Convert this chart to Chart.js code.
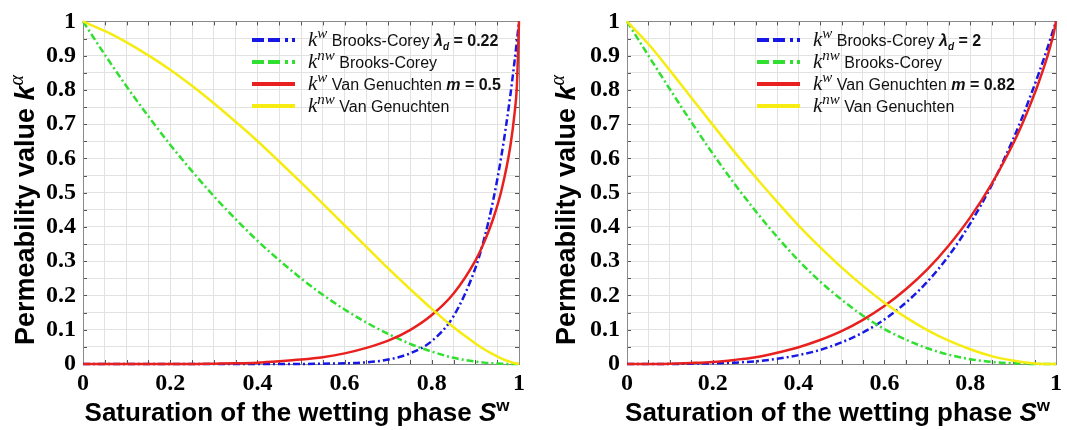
<!DOCTYPE html>
<html>
<head>
<meta charset="utf-8">
<script src="https://cdn.jsdelivr.net/npm/chart.js@4.4.0/dist/chart.umd.min.js"></script>
<style>
  body { margin: 0; background: #fff; }
  .row { display: flex; width: 1067px; height: 430px; }
  canvas { display: block; }
</style>
</head>
<body>
<div class="row">
  <canvas id="chartLeft" width="533" height="430"></canvas>
  <canvas id="chartRight" width="534" height="430"></canvas>
</div>
<script>
// saturation of the wetting phase S^w
const saturation = [0, 0.05, 0.1, 0.15, 0.2, 0.25, 0.3, 0.35, 0.4, 0.45, 0.5, 0.55, 0.6, 0.65,
  0.7, 0.75, 0.8, 0.85, 0.9, 0.92, 0.94, 0.96, 0.98, 0.99, 0.995, 1];

// left panel: lambda_d = 0.22, m = 0.5
const bcWettingLeft = [0, 0, 0, 0, 0, 0, 0, 0, 0, 0, 0, 0.001, 0.002, 0.005,
  0.013, 0.031, 0.067, 0.14, 0.28, 0.365, 0.473, 0.61, 0.783, 0.886, 0.941, 1];
const bcNonWettingLeft = [1, 0.903, 0.81, 0.723, 0.64, 0.563, 0.49, 0.423, 0.36, 0.303, 0.25, 0.202, 0.159, 0.121,
  0.088, 0.059, 0.036, 0.018, 0.007, 0.004, 0.002, 0.001, 0, 0, 0, 0];
const vgWettingLeft = [0, 0, 0, 0, 0, 0, 0.001, 0.002, 0.004, 0.008, 0.013, 0.02, 0.031, 0.047,
  0.068, 0.099, 0.143, 0.206, 0.302, 0.355, 0.421, 0.508, 0.635, 0.734, 0.808, 1];
const vgNonWettingLeft = [1, 0.972, 0.939, 0.901, 0.859, 0.812, 0.761, 0.707, 0.651, 0.591, 0.53, 0.468, 0.405, 0.342,
  0.279, 0.219, 0.161, 0.107, 0.06, 0.043, 0.029, 0.016, 0.006, 0.002, 0.001, 0];

// right panel: lambda_d = 2, m = 0.82
const bcWettingRight = [0, 0, 0, 0.001, 0.002, 0.004, 0.008, 0.015, 0.026, 0.041, 0.063, 0.092, 0.13, 0.179,
  0.24, 0.316, 0.41, 0.522, 0.656, 0.716, 0.781, 0.849, 0.922, 0.961, 0.98, 1];
const bcNonWettingRight = [1, 0.9, 0.802, 0.706, 0.614, 0.527, 0.446, 0.371, 0.302, 0.241, 0.188, 0.141, 0.102, 0.071,
  0.046, 0.027, 0.014, 0.006, 0.002, 0.001, 0, 0, 0, 0, 0, 0];
const vgWettingRight = [0, 0, 0.001, 0.003, 0.006, 0.012, 0.02, 0.033, 0.049, 0.07, 0.096, 0.129, 0.169, 0.218,
  0.276, 0.346, 0.428, 0.526, 0.643, 0.697, 0.757, 0.823, 0.898, 0.942, 0.967, 1];
const vgNonWettingRight = [1, 0.934, 0.857, 0.777, 0.698, 0.62, 0.545, 0.473, 0.404, 0.341, 0.282, 0.228, 0.179, 0.136,
  0.099, 0.068, 0.043, 0.023, 0.01, 0.006, 0.003, 0.001, 0, 0, 0, 0];

const xTickLabels = ['0', '0.2', '0.4', '0.6', '0.8', '1'];
const yTickLabels = ['0', '0.1', '0.2', '0.3', '0.4', '0.5', '0.6', '0.7', '0.8', '0.9', '1'];

const BLUE = '#1818e4';
const GREEN = '#30df30';
const RED = '#e8201e';
const YELLOW = '#f6ec12';
const DASHDOT = [7, 3, 2, 3];

const SANS = '"Liberation Sans", Arial, sans-serif';
const SERIF = '"Liberation Serif", "Times New Roman", serif';

function toPoints(values) {
  return saturation.map((s, i) => ({ x: s, y: values[i] }));
}

function tickText(labels) {
  return v => {
    const hit = labels.find(t => Math.abs(parseFloat(t) - v) < 1e-6);
    return hit === undefined ? '' : hit;
  };
}

// draws a list of text pieces one after another (for super/subscripts)
function drawRuns(ctx, runs, x, y, align) {
  let total = 0;
  runs.forEach(r => {
    ctx.font = r.font;
    r.w = ctx.measureText(r.text).width;
    total += r.w;
  });
  let cx = align === 'center' ? x - total / 2 : x;
  ctx.textAlign = 'left';
  ctx.textBaseline = 'alphabetic';
  runs.forEach(r => {
    ctx.font = r.font;
    ctx.fillText(r.text, cx, y + (r.dy || 0));
    cx += r.w;
  });
}

function kLabel(sup) {
  return [
    { text: 'k', font: 'italic 21px ' + SERIF },
    { text: sup, font: 'italic 15px ' + SERIF, dy: -8 },
    { text: ' ', font: '16px ' + SANS }
  ];
}

function makePanel(canvasId, series, lambdaText, mText, layout) {
  const legendDash = [12, 4, 12, 5, 3, 4, 3, 4];
  const legendRows = [
    { color: BLUE, dash: legendDash, runs: kLabel('w').concat([
      { text: 'Brooks-Corey ', font: '16px ' + SANS },
      { text: 'λ', font: 'bold italic 16px ' + SANS },
      { text: 'd', font: 'bold italic 10px ' + SANS, dy: 4 },
      { text: ' = ' + lambdaText, font: 'bold 16px ' + SANS }
    ]) },
    { color: GREEN, dash: legendDash, runs: kLabel('nw').concat([
      { text: 'Brooks-Corey', font: '16px ' + SANS }
    ]) },
    { color: RED, dash: [], runs: kLabel('w').concat([
      { text: 'Van Genuchten ', font: '16px ' + SANS },
      { text: 'm', font: 'bold italic 16px ' + SANS },
      { text: ' = ' + mText, font: 'bold 16px ' + SANS }
    ]) },
    { color: YELLOW, dash: [], runs: kLabel('nw').concat([
      { text: 'Van Genuchten', font: '16px ' + SANS }
    ]) }
  ];

  // axes box with inward tick marks, drawn under the curves
  const axesBox = {
    id: 'axesBox',
    beforeDatasetsDraw(chart) {
      const { ctx, chartArea: a, scales } = chart;
      ctx.save();
      ctx.strokeStyle = '#555';
      ctx.lineWidth = 1;
      scales.x.ticks.forEach(t => {
        const px = Math.round(scales.x.getPixelForValue(t.value)) + 0.5;
        ctx.beginPath();
        ctx.moveTo(px, a.bottom); ctx.lineTo(px, a.bottom - 4);
        ctx.moveTo(px, a.top); ctx.lineTo(px, a.top + 4);
        ctx.stroke();
      });
      scales.y.ticks.forEach(t => {
        const py = Math.round(scales.y.getPixelForValue(t.value)) + 0.5;
        ctx.beginPath();
        ctx.moveTo(a.left, py); ctx.lineTo(a.left + 4, py);
        ctx.moveTo(a.right, py); ctx.lineTo(a.right - 4, py);
        ctx.stroke();
      });
      ctx.strokeStyle = '#8a8a8a';
      ctx.strokeRect(Math.round(a.left) + 0.5, Math.round(a.top) + 0.5,
        Math.round(a.right - a.left), Math.round(a.bottom - a.top));
      ctx.restore();
    }
  };

  const titlesAndLegend = {
    id: 'titlesAndLegend',
    afterDraw(chart) {
      const { ctx, chartArea: a } = chart;
      ctx.save();
      ctx.fillStyle = '#000';
      // x axis title
      drawRuns(ctx, [
        { text: 'Saturation of the wetting phase ', font: 'bold 26px ' + SANS },
        { text: 'S', font: 'bold italic 26px ' + SANS },
        { text: 'w', font: 'bold 17px ' + SANS, dy: -10 }
      ], (a.left + a.right) / 2 - 4, 421, 'center');
      // y axis title
      ctx.save();
      ctx.translate(layout.yTitleX, 210);
      ctx.rotate(-Math.PI / 2);
      drawRuns(ctx, [
        { text: 'Permeability value ', font: 'bold 27px ' + SANS },
        { text: 'k', font: 'bold italic 27px ' + SANS },
        { text: 'α', font: 'italic 20px ' + SERIF, dy: -11 }
      ], 0, 10, 'center');
      ctx.restore();
      // legend
      legendRows.forEach((row, i) => {
        const cy = 40 + i * 22;
        const x0 = a.left + layout.legendX;
        ctx.save();
        ctx.strokeStyle = row.color;
        ctx.lineWidth = 4;
        ctx.setLineDash(row.dash);
        ctx.beginPath();
        ctx.moveTo(x0, cy);
        ctx.lineTo(x0 + 43, cy);
        ctx.stroke();
        ctx.restore();
        ctx.fillStyle = '#111';
        drawRuns(ctx, row.runs, x0 + 56, cy + 6, 'left');
      });
      ctx.restore();
    }
  };

  const curve = (values, color, dash, order) => ({
    data: toPoints(values),
    borderColor: color,
    borderWidth: 2.5,
    borderDash: dash,
    pointRadius: 0,
    cubicInterpolationMode: 'monotone',
    fill: false,
    clip: 4,
    order: order
  });

  new Chart(document.getElementById(canvasId), {
    type: 'line',
    data: {
      datasets: [
        curve(series[0], BLUE, DASHDOT, 3),
        curve(series[1], GREEN, DASHDOT, 2),
        curve(series[2], RED, [], 1),
        curve(series[3], YELLOW, [], 0)
      ]
    },
    options: {
      responsive: false,
      animation: false,
      layout: { padding: { top: 19, right: layout.rightPad, left: 0, bottom: 0 } },
      plugins: { legend: { display: false }, tooltip: { enabled: false } },
      scales: {
        x: {
          type: 'linear',
          min: 0,
          max: 1,
          afterFit: s => { s.height = 66; },
          grid: { color: '#e2e2e2', drawTicks: false },
          border: { display: false },
          ticks: {
            stepSize: 0.05,
            autoSkip: false,
            maxRotation: 0,
            padding: 5,
            color: '#000',
            font: { family: SERIF, weight: 'bold', size: 24 },
            callback: tickText(xTickLabels)
          }
        },
        y: {
          min: 0,
          max: 1,
          afterFit: s => { s.width = layout.plotLeft; },
          grid: { color: '#e2e2e2', drawTicks: false },
          border: { display: false },
          ticks: {
            stepSize: 0.05,
            autoSkip: false,
            padding: 7,
            color: '#000',
            font: { family: SERIF, weight: 'bold', size: 24 },
            callback: tickText(yTickLabels)
          }
        }
      }
    },
    plugins: [axesBox, titlesAndLegend]
  });
}

makePanel('chartLeft',
  [bcWettingLeft, bcNonWettingLeft, vgWettingLeft, vgNonWettingLeft],
  '0.22', '0.5',
  { plotLeft: 83, rightPad: 14, yTitleX: 24, legendX: 169 });

makePanel('chartRight',
  [bcWettingRight, bcNonWettingRight, vgWettingRight, vgNonWettingRight],
  '2', '0.82',
  { plotLeft: 94, rightPad: 4, yTitleX: 32, legendX: 130 });
</script>
</body>
</html>
